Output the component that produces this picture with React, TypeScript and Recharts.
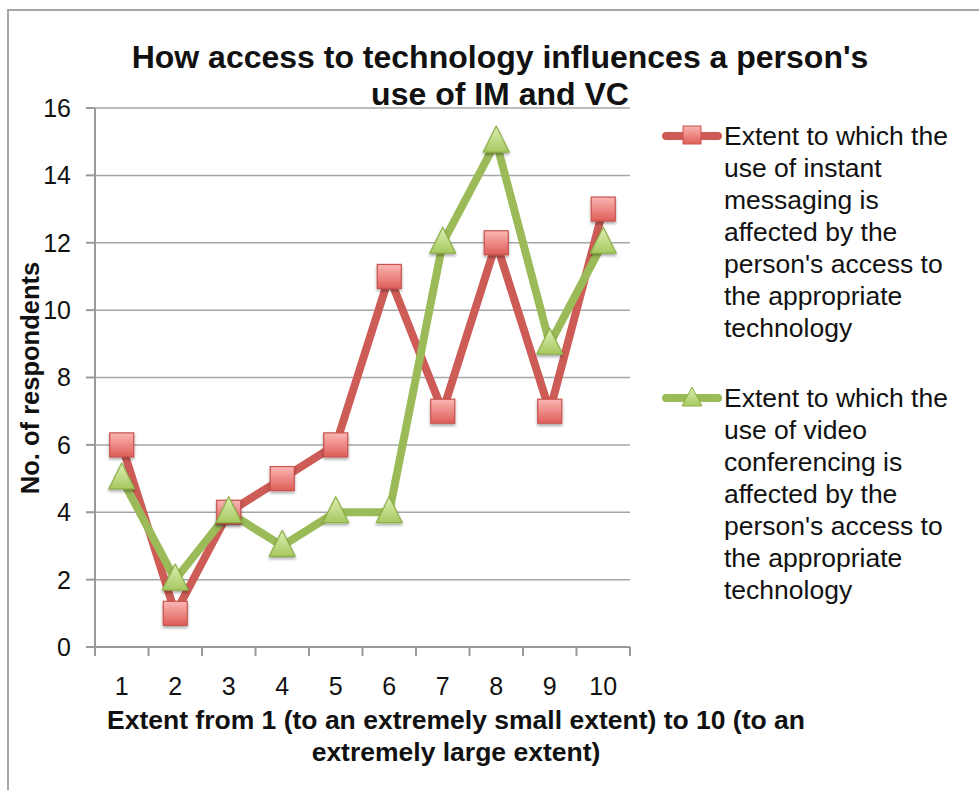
import { CartesianGrid, Line, LineChart, XAxis, YAxis } from "recharts";

const categories = ["1", "2", "3", "4", "5", "6", "7", "8", "9", "10"];
const imValues = [6, 1, 4, 5, 6, 11, 7, 12, 7, 13];
const vcValues = [5, 2, 4, 3, 4, 4, 12, 15, 9, 12];
const yTicks = [0, 2, 4, 6, 8, 10, 12, 14, 16];
const bandEdges = [0.5, 1.5, 2.5, 3.5, 4.5, 5.5, 6.5, 7.5, 8.5, 9.5, 10.5];

const titleLines = ["How access to technology influences a person's", "use of IM and VC"];
const xLabelLines = [
  "Extent from 1 (to an extremely small extent) to 10 (to an",
  "extremely large extent)",
];
const yLabel = "No. of respondents";
const imName = [
  "Extent to which the",
  "use of instant",
  "messaging is",
  "affected by the",
  "person's access to",
  "the appropriate",
  "technology",
];
const vcName = [
  "Extent to which the",
  "use of video",
  "conferencing is",
  "affected by the",
  "person's access to",
  "the appropriate",
  "technology",
];

const FONT = "'Liberation Sans', Arial, Helvetica, sans-serif";
const RED = "#CD5B56";
const GREEN = "#9BBB59";

const data = categories.map((c, i) => ({ x: i + 1, label: c, im: imValues[i], vc: vcValues[i] }));

// plot box: x 95..630, y 108..647
const PLOT_W = 535;
const BAND = PLOT_W / categories.length;

function SquareDot(props: any) {
  const { cx, cy } = props;
  if (cx == null || cy == null) return null;
  const s = 24;
  return (
    <rect
      x={cx - s / 2}
      y={cy - s / 2}
      width={s}
      height={s}
      fill="url(#sq-fill)"
      stroke="#C9524D"
      strokeWidth={1.2}
      filter="url(#mk-shadow)"
    />
  );
}

function TriDot(props: any) {
  const { cx, cy } = props;
  if (cx == null || cy == null) return null;
  const w = 26;
  const h = 26;
  return (
    <path
      d={`M${cx},${cy - h * 0.6} L${cx + w / 2},${cy + h * 0.4} L${cx - w / 2},${cy + h * 0.4} Z`}
      fill="url(#tri-fill)"
      stroke="#8DB046"
      strokeWidth={1.2}
      strokeLinejoin="round"
      filter="url(#mk-shadow)"
    />
  );
}

function XTick(props: any) {
  const { x, y, index } = props;
  if (index >= categories.length) return null;
  return (
    <text
      x={x + BAND / 2}
      y={y}
      dy="0.71em"
      textAnchor="middle"
      fontFamily={FONT}
      fontSize={25}
      fill="#111"
    >
      {categories[index]}
    </text>
  );
}

function LegendItem({ kind, lines, top }: { kind: "sq" | "tri"; lines: string[]; top: number }) {
  return (
    <div style={{ position: "absolute", left: 0, top, width: 320 }}>
      <svg width={64} height={32} style={{ position: "absolute", left: 0, top: 0 }}>
        <defs>
          <linearGradient id={`lg-${kind}`} x1="0" y1="0" x2="0" y2="1">
            <stop offset="0%" stopColor={kind === "sq" ? "#F9B3B0" : "#DCEEB0"} />
            <stop offset="100%" stopColor={kind === "sq" ? "#E0605B" : "#A8CA62"} />
          </linearGradient>
        </defs>
        <line
          x1={6}
          y1={16}
          x2={58}
          y2={16}
          stroke={kind === "sq" ? RED : GREEN}
          strokeWidth={8}
          strokeLinecap="round"
        />
        {kind === "sq" ? (
          <rect x={23} y={6} width={18} height={18} fill={`url(#lg-${kind})`} stroke="#C9524D" strokeWidth={1} />
        ) : (
          <path d="M32,5 L42,24 L22,24 Z" fill={`url(#lg-${kind})`} stroke="#8DB046" strokeWidth={1} />
        )}
      </svg>
      <div
        style={{
          position: "absolute",
          left: 64,
          top: 0,
          fontFamily: FONT,
          fontSize: 26.5,
          lineHeight: "32px",
          color: "#111",
          whiteSpace: "nowrap",
        }}
      >
        {lines.map((l, i) => (
          <div key={i}>{l}</div>
        ))}
      </div>
    </div>
  );
}

function XAxisTitle() {
  return (
    <text
      x={456}
      y={720}
      textAnchor="middle"
      fontFamily={FONT}
      fontWeight="bold"
      fontSize={26.5}
      fill="#111"
    >
      {xLabelLines.map((l, i) => (
        <tspan key={i} x={456} dy={i === 0 ? "0.35em" : 32}>
          {l}
        </tspan>
      ))}
    </text>
  );
}

function YAxisTitle() {
  return (
    <text
      x={30}
      y={378}
      transform="rotate(-90 30 378)"
      textAnchor="middle"
      dominantBaseline="central"
      fontFamily={FONT}
      fontWeight="bold"
      fontSize={25.5}
      fill="#111"
    >
      {yLabel}
    </text>
  );
}

export default function App() {
  return (
    <div
      style={{
        position: "fixed",
        left: 0,
        top: 0,
        width: 979,
        height: 790,
        background: "#fff",
        overflow: "hidden",
      }}
    >
      <div
        style={{
          position: "absolute",
          left: 7,
          top: 9,
          width: 1000,
          height: 900,
          border: "2px solid #A6A6A6",
        }}
      />
      <div
        style={{
          position: "absolute",
          left: 0,
          top: 39,
          width: 1000,
          textAlign: "center",
          fontFamily: FONT,
          fontWeight: "bold",
          fontSize: 32,
          lineHeight: "37px",
          color: "#111",
        }}
      >
        {titleLines.map((l, i) => (
          <div key={i}>{l}</div>
        ))}
      </div>
      <div style={{ position: "absolute", left: 0, top: 0 }}>
        <LineChart
          width={979}
          height={790}
          data={data}
          margin={{ top: 108, right: 349, left: 0, bottom: 0 }}
        >
          <defs>
            <linearGradient id="sq-fill" x1="0" y1="0" x2="0" y2="1">
              <stop offset="0%" stopColor="#FAB7B4" />
              <stop offset="100%" stopColor="#DF5D58" />
            </linearGradient>
            <linearGradient id="tri-fill" x1="0" y1="0" x2="0" y2="1">
              <stop offset="0%" stopColor="#DFF0B5" />
              <stop offset="100%" stopColor="#A6C860" />
            </linearGradient>
            <filter id="mk-shadow" x="-50%" y="-50%" width="200%" height="200%">
              <feDropShadow dx="0" dy="2" stdDeviation="1.5" floodColor="#000" floodOpacity="0.35" />
            </filter>
          </defs>
          <CartesianGrid vertical={false} stroke="#A6A6A6" strokeWidth={1.5} />
          <XAxis
            dataKey="x"
            type="number"
            domain={[0.5, 10.5]}
            ticks={bandEdges}
            interval={0}
            height={143}
            stroke="#999"
            strokeWidth={2}
            tickSize={9}
            tickMargin={21}
            tick={<XTick />}
            label={<XAxisTitle />}
          />
          <YAxis
            domain={[0, 16]}
            ticks={yTicks}
            interval={0}
            width={95}
            stroke="#999"
            strokeWidth={2}
            tickSize={9}
            tickMargin={15}
            tick={{ fontFamily: FONT, fontSize: 25, fill: "#111" }}
            label={<YAxisTitle />}
          />
          <Line
            dataKey="im"
            stroke={RED}
            strokeWidth={8}
            strokeLinejoin="round"
            dot={<SquareDot />}
            activeDot={false}
            isAnimationActive={false}
          />
          <Line
            dataKey="vc"
            stroke={GREEN}
            strokeWidth={8}
            strokeLinejoin="round"
            dot={<TriDot />}
            activeDot={false}
            isAnimationActive={false}
          />
        </LineChart>
      </div>
      <div style={{ position: "absolute", left: 660, top: 120, width: 320, height: 500 }}>
        <LegendItem kind="sq" lines={imName} top={0} />
        <LegendItem kind="tri" lines={vcName} top={262} />
      </div>
    </div>
  );
}
